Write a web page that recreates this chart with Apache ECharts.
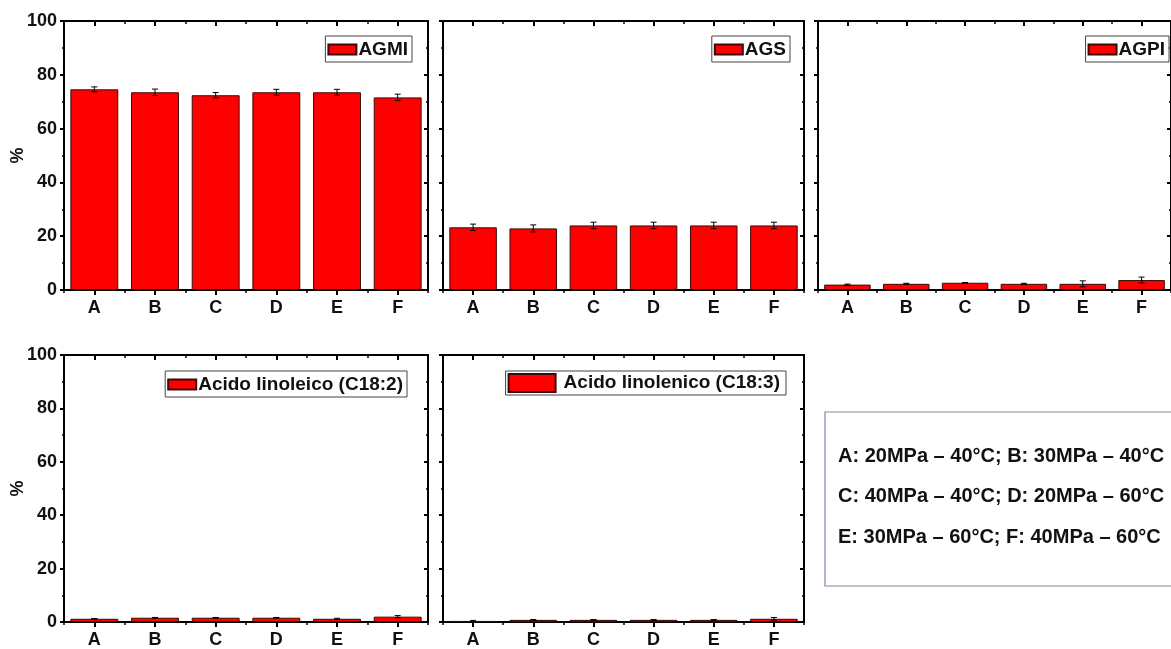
<!DOCTYPE html>
<html>
<head>
<meta charset="utf-8">
<script src="https://cdn.jsdelivr.net/npm/echarts@6/dist/echarts.min.js"></script>
<style>
html,body{margin:0;padding:0;background:#fff;}
#chart{width:1171px;height:649px;}
</style>
</head>
<body>
<div id="chart"></div>
<script>
// ---- data ----
const categories = ['A', 'B', 'C', 'D', 'E', 'F'];
const panelNames = ['AGMI', 'AGS', 'AGPI', 'Acido linoleico (C18:2)', 'Acido linolenico (C18:3)'];
const agmi = [74.6, 73.5, 72.4, 73.5, 73.5, 71.6];
const agmiErr = [0.9, 1.2, 1.0, 1.1, 1.1, 1.2];
const ags = [23.3, 22.9, 24.0, 24.0, 24.0, 24.0];
const agsErr = [1.2, 1.3, 1.2, 1.2, 1.2, 1.2];
const agpi = [2.0, 2.3, 2.7, 2.3, 2.3, 3.7];
const agpiErr = [0.2, 0.2, 0.1, 0.2, 1.1, 1.1];
const c182 = [1.2, 1.6, 1.6, 1.6, 1.2, 2.0];
const c182Err = [0.1, 0.1, 0.1, 0.1, 0.2, 0.4];
const c183 = [0.4, 0.8, 0.8, 0.8, 0.8, 1.2];
const c183Err = [0.2, 0.1, 0.1, 0.1, 0.1, 0.5];
const yTicks = [0, 20, 40, 60, 80, 100];
const noteLines = [
  'A: 20MPa \u2013 40\u00b0C; B: 30MPa \u2013 40\u00b0C',
  'C: 40MPa \u2013 40\u00b0C; D: 20MPa \u2013 60\u00b0C',
  'E: 30MPa \u2013 60\u00b0C; F: 40MPa \u2013 60\u00b0C'
];

const values = [agmi, ags, agpi, c182, c183];
const errors = [agmiErr, agsErr, agpiErr, c182Err, c183Err];

// ---- layout ----
const FONT = '"Liberation Sans", Arial, sans-serif';
const grids = [
  {left: 64, top: 21, width: 364, height: 269},
  {left: 443, top: 21, width: 361, height: 269},
  {left: 818, top: 21, width: 364, height: 269},
  {left: 64, top: 355, width: 364, height: 270},
  {left: 443, top: 355, width: 361, height: 270}
];
const legendPos = [
  {right: 759, top: 36},
  {right: 381, top: 36},
  {right: 2, top: 36},
  {right: 764, top: 371},
  {right: 385, top: 371}
];
const showYLabel = [true, false, false, true, false];

const lineStyle = {color: '#000', width: 2};
const xAxes = [], yAxes = [], series = [], legends = [];

grids.forEach((g, i) => {
  const base = xAxes.length;
  // bottom main
  xAxes.push({
    type: 'category', gridIndex: i, data: categories, position: 'bottom',
    axisLine: {show: true, lineStyle},
    axisTick: {show: true, alignWithLabel: true, length: 5, inside: false, lineStyle: {color: '#000', width: 2}},
    axisLabel: {show: true, color: '#111', fontFamily: FONT, fontWeight: 'bold', fontSize: 18, margin: 9},
    splitLine: {show: false}
  });
  // bottom minor (boundaries)
  xAxes.push({
    type: 'category', gridIndex: i, data: categories, position: 'bottom',
    axisLine: {show: false},
    axisTick: {show: true, alignWithLabel: false, length: 3, inside: false, lineStyle: {color: '#000', width: 1.5}},
    axisLabel: {show: false}, splitLine: {show: false}
  });
  // top main
  xAxes.push({
    type: 'category', gridIndex: i, data: categories, position: 'top',
    axisLine: {show: true, lineStyle},
    axisTick: {show: true, alignWithLabel: true, length: 5, inside: true, lineStyle: {color: '#000', width: 2}},
    axisLabel: {show: false}, splitLine: {show: false}
  });
  // top minor
  xAxes.push({
    type: 'category', gridIndex: i, data: categories, position: 'top',
    axisLine: {show: false},
    axisTick: {show: true, alignWithLabel: false, length: 3, inside: true, lineStyle: {color: '#000', width: 1.5}},
    axisLabel: {show: false}, splitLine: {show: false}
  });

  const yBase = yAxes.length;
  yAxes.push({
    type: 'value', gridIndex: i, position: 'left',
    min: yTicks[0], max: yTicks[yTicks.length - 1], interval: yTicks[1] - yTicks[0],
    name: showYLabel[i] ? '%' : '', nameLocation: 'middle', nameGap: 37, nameRotate: 90,
    nameMoveOverlap: false,
    nameTextStyle: {color: '#111', fontFamily: FONT, fontWeight: 'bold', fontSize: 18},
    axisLine: {show: true, lineStyle},
    axisTick: {show: true, length: 4, inside: false, lineStyle: {color: '#000', width: 2}},
    minorTick: {show: true, splitNumber: 2, length: 2, lineStyle: {color: '#000', width: 1.5}},
    axisLabel: {show: showYLabel[i], color: '#111', fontFamily: FONT, fontWeight: 'bold', fontSize: 18, margin: 7},
    splitLine: {show: false}
  });
  yAxes.push({
    type: 'value', gridIndex: i, position: 'right',
    min: yTicks[0], max: yTicks[yTicks.length - 1], interval: yTicks[1] - yTicks[0],
    axisLine: {show: true, lineStyle},
    axisTick: {show: true, length: 4, inside: true, lineStyle: {color: '#000', width: 2}},
    minorTick: {show: true, splitNumber: 2, length: 2, lineStyle: {color: '#000', width: 1.5}},
    axisLabel: {show: false},
    splitLine: {show: false}
  });

  series.push({
    type: 'bar', name: panelNames[i], xAxisIndex: base, yAxisIndex: yBase,
    data: values[i], barCategoryGap: '21%',
    itemStyle: {color: '#ff0000', borderColor: '#3a0a0a', borderWidth: 1},
    z: 2
  });
  series.push({
    type: 'custom', name: panelNames[i] + ' error', xAxisIndex: base, yAxisIndex: yBase,
    data: values[i].map((v, k) => [k, v - errors[i][k], v + errors[i][k]]),
    encode: {x: 0, y: [1, 2]},
    z: 5,
    renderItem: function (params, api) {
      const x = api.value(0);
      const pHi = api.coord([x, api.value(2)]);
      const pLo = api.coord([x, api.value(1)]);
      const w = 3;
      const st = {stroke: '#000', lineWidth: 1};
      return {
        type: 'group',
        children: [
          {type: 'line', shape: {x1: pHi[0], y1: pHi[1], x2: pLo[0], y2: pLo[1]}, style: st},
          {type: 'line', shape: {x1: pHi[0] - w, y1: pHi[1], x2: pHi[0] + w, y2: pHi[1]}, style: st},
          {type: 'line', shape: {x1: pLo[0] - w, y1: pLo[1], x2: pLo[0] + w, y2: pLo[1]}, style: st}
        ]
      };
    }
  });

  const bigSwatch = (i === 4);
  legends.push(Object.assign({
    data: [panelNames[i]],
    orient: 'horizontal',
    selectedMode: false,
    icon: 'rect',
    itemWidth: bigSwatch ? 47 : 28,
    itemHeight: bigSwatch ? 18 : 10,
    itemGap: 0,
    padding: bigSwatch ? [2, 6, 2, 2] : [4, 4, 3, 2],
    backgroundColor: '#fff',
    borderColor: '#444',
    borderWidth: 1,
    borderRadius: 0,
    textStyle: {color: '#111', fontFamily: FONT, fontWeight: 'bold', fontSize: 19, padding: [0, 0, 0, bigSwatch ? 3 : -3]}
  }, legendPos[i]));
});

const chart = echarts.init(document.getElementById('chart'), null, {renderer: 'canvas'});
chart.setOption({
  backgroundColor: '#fff',
  animation: false,
  grid: grids.map(g => Object.assign({containLabel: false}, g)),
  xAxis: xAxes,
  yAxis: yAxes,
  legend: legends,
  series: series,
  graphic: [{
    type: 'group',
    children: [
      {type: 'rect', shape: {x: 825, y: 412, width: 380, height: 174},
       style: {fill: '#fff', stroke: '#7c8ba3', lineWidth: 1.2}},
    ].concat(noteLines.map((t, k) => ({
      type: 'text', x: 838, y: 456 + k * 40.5,
      style: {text: t, fill: '#111', font: 'bold 20px ' + FONT, textVerticalAlign: 'middle', textAlign: 'left'}
    })))
  }]
});
</script>
</body>
</html>
